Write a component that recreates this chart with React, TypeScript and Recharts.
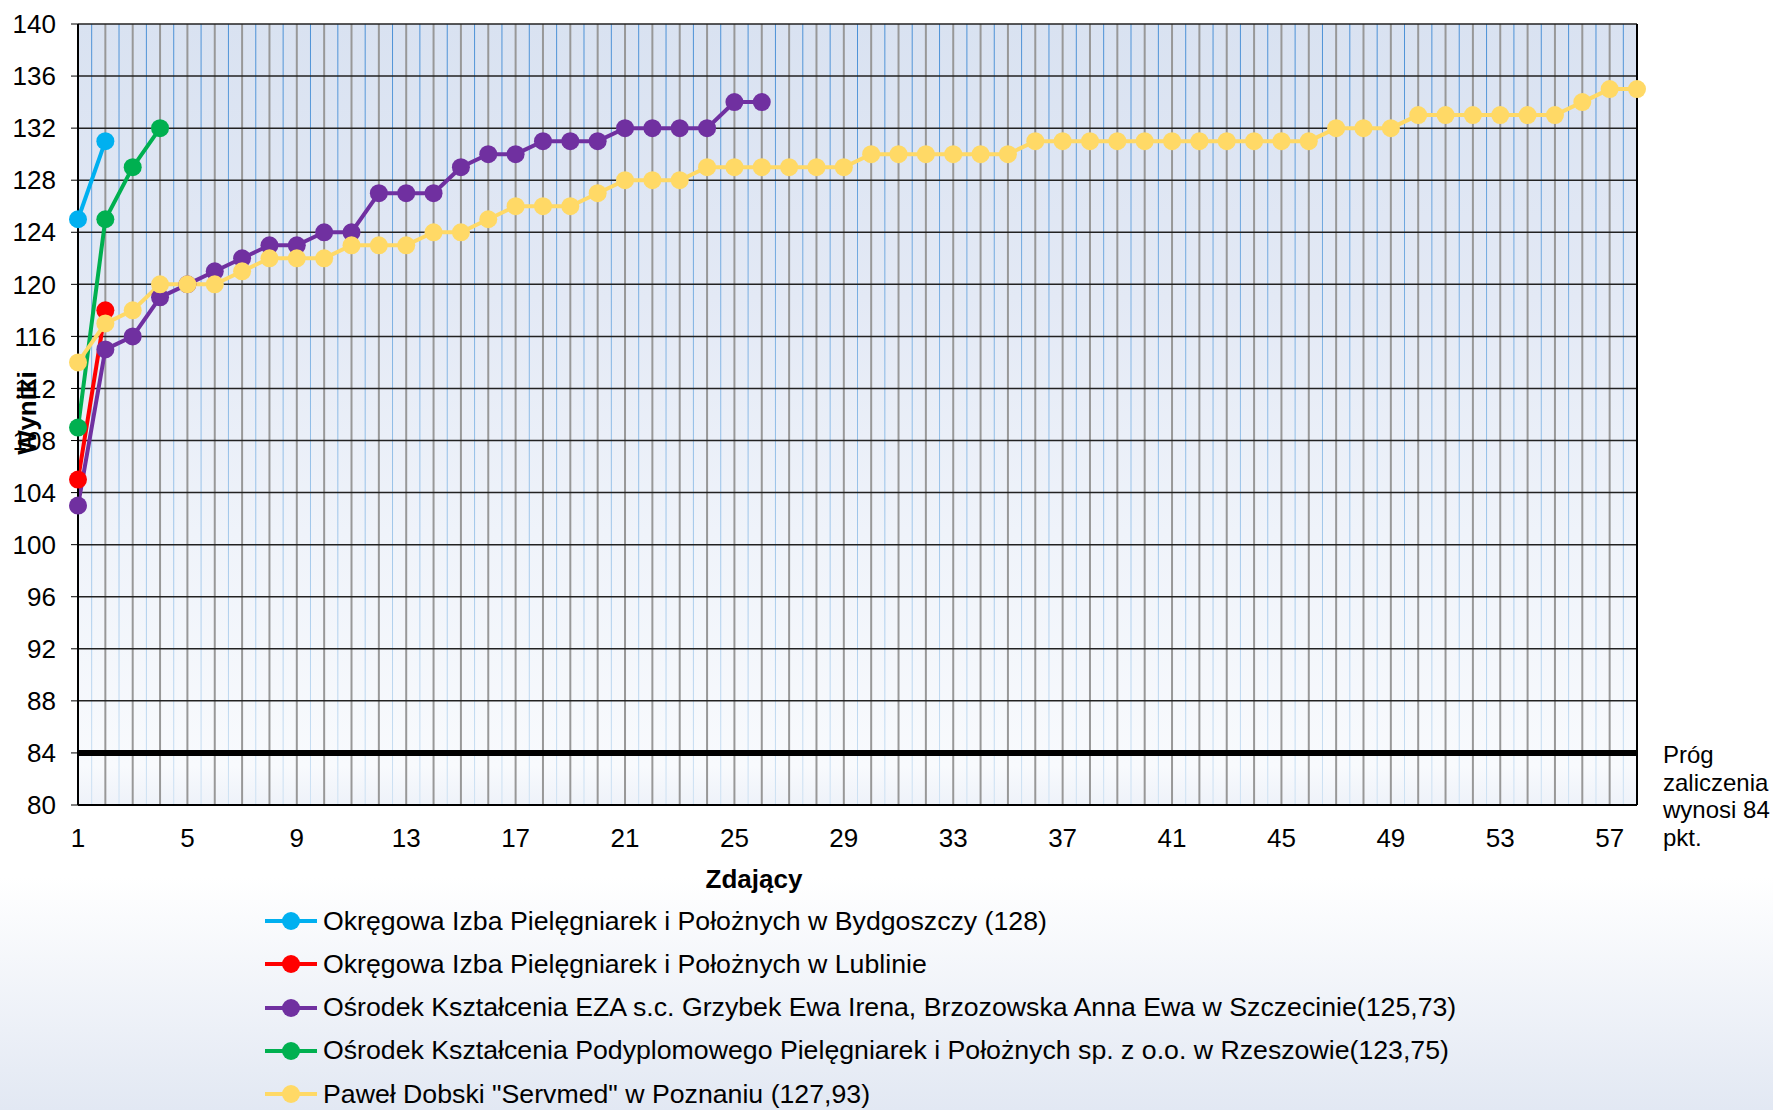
import React from "react";
import { LineChart, Line, XAxis, YAxis, CartesianGrid, ReferenceLine } from "recharts";

// candidates 1..58
const positions = Array.from({ length: 58 }, (_, i) => i + 1);
const xTicks = [1, 5, 9, 13, 17, 21, 25, 29, 33, 37, 41, 45, 49, 53, 57];
const yTicks = [80, 84, 88, 92, 96, 100, 104, 108, 112, 116, 120, 124, 128, 132, 136, 140];
const threshold = 84;

const bydgoszcz = [125, 131];
const lublin = [105, 118];
const szczecin = [
  103, 115, 116, 119, 120, 121, 122, 123, 123, 124, 124, 127, 127, 127, 129, 130, 130, 131, 131, 131,
  132, 132, 132, 132, 134, 134,
];
const rzeszow = [109, 125, 129, 132];
const poznan = [
  114, 117, 118, 120, 120, 120, 121, 122, 122, 122, 123, 123, 123, 124, 124, 125, 126, 126, 126, 127,
  128, 128, 128, 129, 129, 129, 129, 129, 129, 130, 130, 130, 130, 130, 130, 131, 131, 131, 131, 131,
  131, 131, 131, 131, 131, 131, 132, 132, 132, 133, 133, 133, 133, 133, 133, 134, 135, 135,
];

const series = [
  { key: "bydgoszcz", values: bydgoszcz, color: "#00b0f0", name: "Okręgowa Izba Pielęgniarek i Położnych w Bydgoszczy (128)" },
  { key: "lublin", values: lublin, color: "#ff0000", name: "Okręgowa Izba Pielęgniarek i Położnych w Lublinie" },
  { key: "szczecin", values: szczecin, color: "#7030a0", name: "Ośrodek Kształcenia EZA s.c. Grzybek Ewa Irena, Brzozowska Anna Ewa w Szczecinie(125,73)" },
  { key: "rzeszow", values: rzeszow, color: "#00b050", name: "Ośrodek Kształcenia Podyplomowego Pielęgniarek i Położnych sp. z o.o. w Rzeszowie(123,75)" },
  { key: "poznan", values: poznan, color: "#ffd966", name: 'Paweł Dobski "Servmed" w Poznaniu (127,93)' },
];

const data = positions.map((p, i) => {
  const row: Record<string, number | undefined> = { x: p };
  series.forEach((s) => {
    row[s.key] = s.values[i];
  });
  return row;
});

const halfSteps = positions.slice(0, -1).map((p) => p + 0.5);

const FONT = '"Liberation Sans", Arial, sans-serif';

const XTick = (props: any) => {
  const { x, y, payload } = props;
  if (!xTicks.includes(payload.value)) return <g />;
  return (
    <text x={x} y={y} dy="0.71em" textAnchor="middle" fontSize={26} fontFamily={FONT} fill="#000">
      {payload.value}
    </text>
  );
};

const App = () => {
  return (
    <div
      style={{
        position: "absolute",
        left: 0,
        top: 0,
        width: 1773,
        height: 1110,
        overflow: "hidden",
        fontFamily: FONT,
        background: "linear-gradient(to bottom, #ffffff 0%, #ffffff 79%, #e2e8f3 100%)",
      }}
    >
      <LineChart
        width={1773}
        height={1110}
        data={data}
        margin={{ top: 24, right: 136, bottom: 275, left: 0 }}
      >
        <defs>
          <linearGradient id="plotBg" x1="0" y1="0" x2="0" y2="1">
            <stop offset="0%" stopColor="#d9e2f1" />
            <stop offset="35%" stopColor="#e3e9f5" />
            <stop offset="65%" stopColor="#eff3fa" />
            <stop offset="95%" stopColor="#f8fafd" />
            <stop offset="100%" stopColor="#eef2f9" />
          </linearGradient>
          <linearGradient id="minorGrid" gradientUnits="userSpaceOnUse" x1="0" y1="24" x2="0" y2="805">
            <stop offset="0%" stopColor="#4a90d6" />
            <stop offset="50%" stopColor="#8dbbe6" />
            <stop offset="100%" stopColor="#cfe2f3" />
          </linearGradient>
        </defs>
        <XAxis
          type="number"
          dataKey="x"
          domain={[1, 58]}
          ticks={positions}
          interval={0}
          tick={<XTick />}
          tickLine={false}
          tickSize={0}
          tickMargin={24}
          height={30}
          axisLine={{ stroke: "#000", strokeWidth: 2 }}
        />
        <YAxis
          type="number"
          domain={[80, 140]}
          ticks={yTicks}
          interval={0}
          width={78}
          tickSize={7}
          tickMargin={15}
          tickLine={{ stroke: "#000" }}
          axisLine={{ stroke: "#000", strokeWidth: 2 }}
          tick={{ fontSize: 26, fontFamily: FONT, fill: "#000" }}
        />
        <CartesianGrid fill="url(#plotBg)" horizontal={false} verticalValues={halfSteps} stroke="url(#minorGrid)" strokeWidth={1} />
        <CartesianGrid fillOpacity={0} horizontal={false} verticalValues={positions} stroke="#989898" strokeWidth={2} />
        <CartesianGrid fillOpacity={0} vertical={false} horizontalValues={yTicks} stroke="#222" strokeWidth={1.5} />
        <ReferenceLine x={58} stroke="#000" strokeWidth={2} />
        <ReferenceLine y={threshold} stroke="#000" strokeWidth={6} />
        {series.map((s) => (
          <Line
            key={s.key}
            dataKey={s.key}
            name={s.name}
            stroke={s.color}
            strokeWidth={4}
            dot={{ r: 9, fill: s.color, stroke: s.color, strokeWidth: 0 }}
            activeDot={false}
            isAnimationActive={false}
          />
        ))}
      </LineChart>

      <div
        style={{
          position: "absolute",
          left: 27,
          top: 413,
          transform: "translate(-50%, -50%) rotate(-90deg)",
          fontSize: 26,
          fontWeight: "bold",
          whiteSpace: "nowrap",
        }}
      >
        Wyniki
      </div>
      <div
        style={{
          position: "absolute",
          left: 754,
          top: 879,
          transform: "translate(-50%, -50%)",
          fontSize: 26,
          fontWeight: "bold",
          whiteSpace: "nowrap",
        }}
      >
        Zdający
      </div>
      <div style={{ position: "absolute", left: 1663, top: 741, fontSize: 24, lineHeight: "27.5px" }}>
        Próg
        <br />
        zaliczenia
        <br />
        wynosi 84
        <br />
        pkt.
      </div>

      {series.map((s, i) => (
        <div
          key={s.key}
          style={{
            position: "absolute",
            left: 264,
            top: 921 + i * 43.3 - 16,
            height: 32,
            display: "flex",
            alignItems: "center",
            whiteSpace: "nowrap",
            fontSize: 26.7,
          }}
        >
          <svg width={56} height={32} style={{ display: "block" }}>
            <line x1={1} y1={16} x2={53} y2={16} stroke={s.color} strokeWidth={4} />
            <circle cx={27} cy={16} r={9} fill={s.color} />
          </svg>
          <span style={{ marginLeft: 3 }}>{s.name}</span>
        </div>
      ))}
    </div>
  );
};

export default App;
